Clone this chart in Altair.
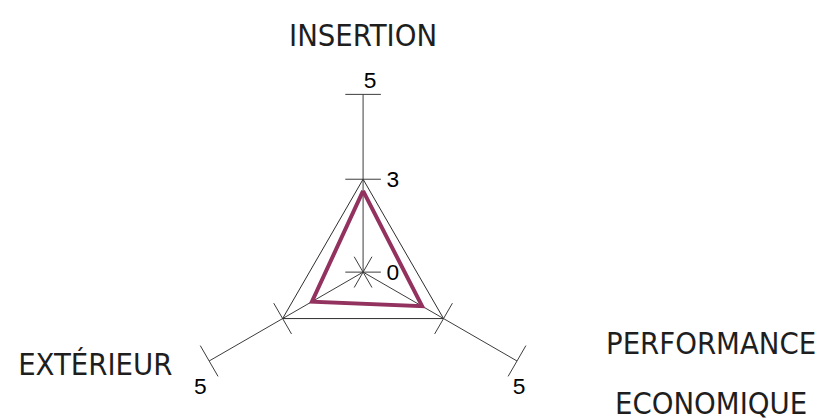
import math
import altair as alt
import pandas as pd

# ---- data ----
categories = ["INSERTION", "PERFORMANCE\nECONOMIQUE", "EXTÉRIEUR"]
values = [2.7, 2.35, 2.1]
tick_values = [0, 3, 5]
ring_value = 3
axis_max = 5

# radial transform (reference radial axis is not linear: 3 sits at ~half of 5)
K = 1.27


def radius(v):
    return axis_max * (v / axis_max) ** K


def angle(i):
    return math.radians(90 - 120 * i)


def pt(i, v):
    r = radius(v)
    a = angle(i)
    return r * math.cos(a), r * math.sin(a)


n = len(categories)

spokes = pd.DataFrame(
    [{"axis": i, "x": 0.0, "y": 0.0, "x2": pt(i, axis_max)[0], "y2": pt(i, axis_max)[1]} for i in range(n)]
)

ring_rows = []
data_rows = []
for k, i in enumerate(list(range(n)) + [0]):
    x, y = pt(i, ring_value)
    ring_rows.append({"order": k, "x": x, "y": y})
    x, y = pt(i, values[i])
    data_rows.append({"order": k, "x": x, "y": y, "cat": categories[i], "value": values[i]})
ring = pd.DataFrame(ring_rows)
poly = pd.DataFrame(data_rows)

HALF = 0.5  # tick half length in axis units
tick_rows = []
for i in range(n):
    a = angle(i)
    px, py = -math.sin(a), math.cos(a)
    for t in tick_values:
        x, y = pt(i, t)
        tick_rows.append({"axis": i, "t": t, "x": x - HALF * px, "y": y - HALF * py,
                          "x2": x + HALF * px, "y2": y + HALF * py})
ticks = pd.DataFrame(tick_rows)

label_rows = []
for i in range(n):
    for t in tick_values:
        if i == 0 or t == axis_max:
            x, y = pt(i, t)
            label_rows.append({"axis": i, "t": t, "label": str(t), "x": x, "y": y})
tlabels = pd.DataFrame(label_rows)

cat_rows = []
for i in range(n):
    x, y = pt(i, axis_max)
    cat_rows.append({"axis": i, "label": categories[i], "x": x, "y": y})
cats = pd.DataFrame(cat_rows)

# ---- scales ----
W, H = 815, 412
S = 35.9  # px per unit
XMIN = -358.6 / S
XMAX = XMIN + W / S
YMAX = 264.7 / S
YMIN = YMAX - H / S

xs = alt.Scale(domain=[XMIN, XMAX], nice=False, zero=False)
ys = alt.Scale(domain=[YMIN, YMAX], nice=False, zero=False)
X = alt.X("x:Q", scale=xs, axis=None)
Y = alt.Y("y:Q", scale=ys, axis=None)

spoke_layer = alt.Chart(spokes).mark_rule(color="#3a3a3a", strokeWidth=1).encode(
    x=X, y=Y, x2="x2:Q", y2="y2:Q"
)
ring_layer = alt.Chart(ring).mark_line(color="#2a2a2a", strokeWidth=1).encode(
    x=X, y=Y, order="order:Q"
)
tick_layer = alt.Chart(ticks).mark_rule(color="#3a3a3a", strokeWidth=1).encode(
    x=X, y=Y, x2="x2:Q", y2="y2:Q"
)
poly_layer = alt.Chart(poly).mark_line(color="#93315f", strokeWidth=4, strokeJoin="miter").encode(
    x=X, y=Y, order="order:Q"
)

num_font = dict(font="Liberation Sans", fontSize=23, color="#000000", align="center", baseline="middle")
lab_top_inner = alt.Chart(tlabels).transform_filter("datum.axis == 0 && datum.t < 5").mark_text(
    dx=30, dy=1, **num_font).encode(x=X, y=Y, text="label:N")
lab_top5 = alt.Chart(tlabels).transform_filter("datum.axis == 0 && datum.t == 5").mark_text(
    dx=7, dy=-13, **num_font).encode(x=X, y=Y, text="label:N")
lab_right5 = alt.Chart(tlabels).transform_filter("datum.axis == 1").mark_text(
    dx=2, dy=26, **num_font).encode(x=X, y=Y, text="label:N")
lab_left5 = alt.Chart(tlabels).transform_filter("datum.axis == 2").mark_text(
    dx=-9, dy=26, **num_font).encode(x=X, y=Y, text="label:N")

cat_font = dict(font="Liberation Sans Narrow, DejaVu Sans Condensed, Roboto", fontSize=31,
                color="#1e1e1e", align="center", baseline="alphabetic", lineBreak="\n", lineHeight=61)
cat_top = alt.Chart(cats).transform_filter("datum.axis == 0").mark_text(
    dx=0, dy=-49, **cat_font).encode(x=X, y=Y, text="label:N")
cat_right = alt.Chart(cats).transform_filter("datum.axis == 1").mark_text(
    dx=196, dy=-7, **cat_font).encode(x=X, y=Y, text="label:N")
cat_left = alt.Chart(cats).transform_filter("datum.axis == 2").mark_text(
    dx=-115, dy=14, **cat_font).encode(x=X, y=Y, text="label:N")

chart = alt.layer(
    spoke_layer, ring_layer, tick_layer, poly_layer,
    lab_top_inner, lab_top5, lab_right5, lab_left5,
    cat_top, cat_right, cat_left,
).properties(width=W, height=H, padding=0, autosize="none").configure_view(stroke=None)

chart.save("out.html", embed_options={"renderer": "svg", "actions": False})
